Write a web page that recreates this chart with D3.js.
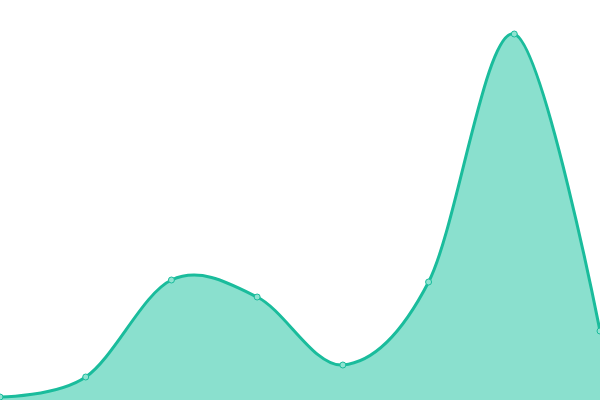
<!DOCTYPE html>
<html>
<head>
<meta charset="utf-8">
<script src="https://cdn.jsdelivr.net/npm/d3@7"></script>
<style>
  body { margin: 0; background: #fff; }
</style>
</head>
<body>
<div id="chart"></div>
<script>
// data
const categories = [0, 1, 2, 3, 4, 5, 6, 7];
const values = [3, 23, 120, 103, 35, 118, 366, 69];

const width = 600, height = 400;

const svg = d3.select("#chart")
  .append("svg")
    .attr("width", width)
    .attr("height", height);

const x = d3.scalePoint()
  .domain(categories)
  .range([0, width]);

const y = d3.scaleLinear()
  .domain([0, 400])
  .range([height, 0]);

const data = categories.map((c, i) => ({ c: c, v: values[i] }));

// filled area
const area = d3.area()
  .x(d => x(d.c))
  .y0(height)
  .y1(d => y(d.v))
  .curve(d3.curveCardinal);

svg.append("path")
  .datum(data)
  .attr("d", area)
  .attr("fill", "#8ae0ce");

// outline
const line = d3.line()
  .x(d => x(d.c))
  .y(d => y(d.v))
  .curve(d3.curveCardinal);

svg.append("path")
  .datum(data)
  .attr("d", line)
  .attr("fill", "none")
  .attr("stroke", "#1abc9c")
  .attr("stroke-width", 3);

// points
svg.append("g")
  .selectAll("circle")
  .data(data)
  .join("circle")
    .attr("cx", d => x(d.c))
    .attr("cy", d => y(d.v))
    .attr("r", 3)
    .attr("fill", "#8fe3d1")
    .attr("stroke", "#1abc9c")
    .attr("stroke-width", 1);
</script>
</body>
</html>
